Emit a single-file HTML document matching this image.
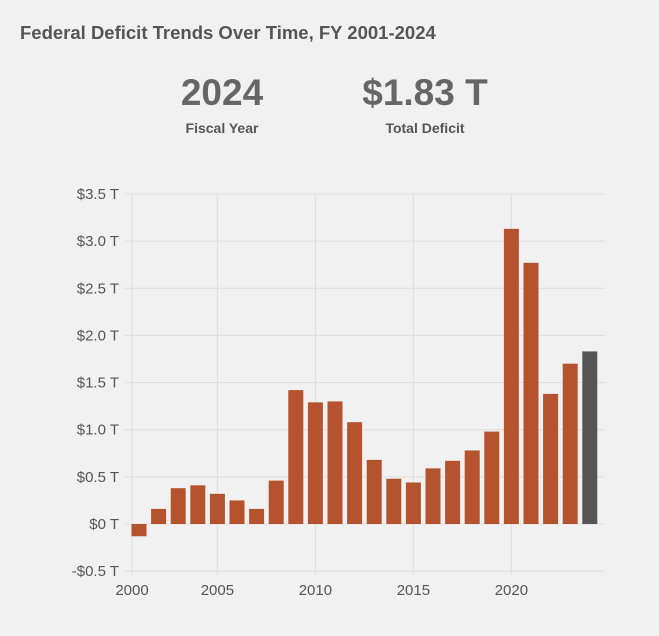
<!DOCTYPE html>
<html><head><meta charset="utf-8"><style>
body{margin:0;background:#f1f1f1;font-family:"Liberation Sans",sans-serif;}
#wrap{position:relative;width:659px;height:636px;background:#f1f1f1;overflow:hidden}
.t{position:absolute;color:#555}
</style></head><body>
<div id="wrap">
<div class="t" style="left:20px;top:22px;font-size:18.5px;font-weight:bold;color:#555">Federal Deficit Trends Over Time, FY 2001-2024</div>
<div class="t" style="left:162px;width:120px;text-align:center;top:72px;font-size:37px;font-weight:bold;color:#666">2024</div>
<div class="t" style="left:162px;width:120px;text-align:center;top:120px;font-size:14px;font-weight:bold;color:#555">Fiscal Year</div>
<div class="t" style="left:340px;width:170px;text-align:center;top:72px;font-size:37px;font-weight:bold;color:#666">$1.83 T</div>
<div class="t" style="left:340px;width:170px;text-align:center;top:120px;font-size:14px;font-weight:bold;color:#555">Total Deficit</div>
<svg id="chart" width="659" height="636" style="position:absolute;left:0;top:0"></svg>
</div>
<script>
const years=[2001,2002,2003,2004,2005,2006,2007,2008,2009,2010,2011,2012,2013,2014,2015,2016,2017,2018,2019,2020,2021,2022,2023,2024];
const deficits=[-0.13,0.16,0.38,0.41,0.32,0.25,0.16,0.46,1.42,1.29,1.30,1.08,0.68,0.48,0.44,0.59,0.67,0.78,0.98,3.13,2.77,1.38,1.70,1.83];
const yTicks=[-0.5,0,0.5,1.0,1.5,2.0,2.5,3.0,3.5];
const yTickLabels=["-$0.5 T","$0 T","$0.5 T","$1.0 T","$1.5 T","$2.0 T","$2.5 T","$3.0 T","$3.5 T"];
const xTicks=[2000,2005,2010,2015,2020];
const NS="http://www.w3.org/2000/svg";
const svg=document.getElementById('chart');
const L=132,R=605;
function x(yr){return Math.max(L,139+19.6*(yr-2001));}
function y(v){return 524-v*94.3;}
function mk(tag,at){const e=document.createElementNS(NS,tag);for(const k in at)e.setAttribute(k,at[k]);svg.appendChild(e);return e;}
yTicks.forEach((v,i)=>{
 const g=mk('line',{x1:125,x2:R,y1:y(v),y2:y(v),stroke:'#dedede','stroke-width':1});
 
 
 const t=mk('text',{x:119,y:y(v)+5,'text-anchor':'end','font-size':15,fill:'#555','font-family':'Liberation Sans, sans-serif'});
 t.textContent=yTickLabels[i];
 
 
});
xTicks.forEach(yr=>{
 const g=mk('line',{x1:x(yr),x2:x(yr),y1:y(3.5),y2:y(-0.5)+3,stroke:'#dedede','stroke-width':1});
 
 
 const t=mk('text',{x:x(yr),y:595,'text-anchor':'middle','font-size':15,fill:'#555','font-family':'Liberation Sans, sans-serif'});
 t.textContent=yr;
 
 
});
years.forEach((yr,i)=>{
 const v=deficits[i];
 const cx=139+19.6*(yr-2001);
 const top=Math.min(y(v),y(0)),h=Math.abs(y(v)-y(0));
 const b=mk('rect',{x:cx-7.5,y:top,width:15,height:h,fill:i===years.length-1?'#555555':'#b5532f'});
 
 
});
</script>
</body></html>
